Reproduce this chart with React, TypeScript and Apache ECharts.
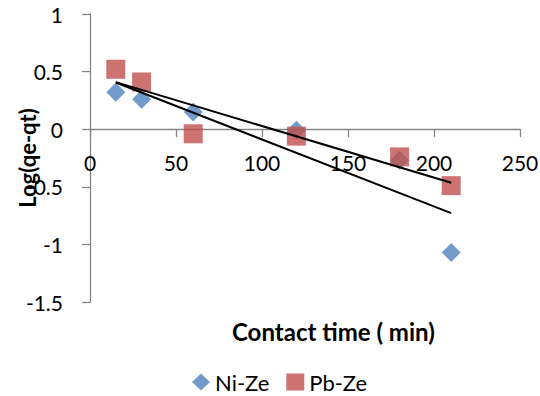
import React, { useEffect, useRef } from "react";
import * as echarts from "echarts";

const contactTime = [15, 30, 60, 120, 180, 210];
const niZe = [0.32, 0.26, 0.15, -0.01, -0.27, -1.07];
const pbZe = [0.52, 0.41, -0.04, -0.06, -0.24, -0.49];
const xTicks = { min: 0, max: 250, interval: 50 };
const yTicks = { min: -1.5, max: 1, interval: 0.5 };

function fit(xs: number[], ys: number[]) {
  const n = xs.length;
  const mx = xs.reduce((a, b) => a + b, 0) / n;
  const my = ys.reduce((a, b) => a + b, 0) / n;
  let sxy = 0;
  let sxx = 0;
  for (let i = 0; i < n; i++) {
    sxy += (xs[i] - mx) * (ys[i] - my);
    sxx += (xs[i] - mx) * (xs[i] - mx);
  }
  const slope = sxy / sxx;
  const icpt = my - slope * mx;
  const x0 = Math.min(...xs);
  const x1 = Math.max(...xs);
  return [
    [x0, icpt + slope * x0],
    [x1, icpt + slope * x1],
  ];
}

const FONT = "Lato";
const W = 540;
const H = 396;
const GRID = { left: 90, right: 20, top: 14, bottom: 94 };

export default function App() {
  const ref = useRef<HTMLDivElement>(null);
  useEffect(() => {
    if (!ref.current) return;
    const chart = echarts.init(ref.current, null, { renderer: "svg" });
    const lineStyle = { color: "#868686", width: 1.3 };
    // place the x axis where y = 0 (the axis crosses there in the reference)
    const plotH = H - GRID.top - GRID.bottom;
    const zeroY = GRID.top + (plotH * (yTicks.max - 0)) / (yTicks.max - yTicks.min);
    const xOffset = -(H - GRID.bottom - zeroY);
    chart.setOption({
      animation: false,
      backgroundColor: "#ffffff",
      textStyle: { fontFamily: FONT },
      grid: { ...GRID, containLabel: false, outerBoundsMode: "none" },
      xAxis: {
        type: "value",
        min: xTicks.min,
        max: xTicks.max,
        interval: xTicks.interval,
        offset: xOffset,
        axisLine: { show: true, onZero: false, lineStyle },
        axisTick: { show: true, inside: false, length: 8, lineStyle },
        axisLabel: { color: "#000", fontSize: 21, fontFamily: FONT, margin: 23 },
        splitLine: { show: false },
      },
      yAxis: {
        type: "value",
        min: yTicks.min,
        max: yTicks.max,
        interval: yTicks.interval,
        axisLine: { show: true, onZero: false, lineStyle },
        axisTick: { show: true, inside: false, length: 8, lineStyle },
        axisLabel: { color: "#000", fontSize: 21, fontFamily: FONT, margin: 27 },
        splitLine: { show: false },
        name: "Log(qe-qt)",
        nameLocation: "middle",
        nameGap: 52,
        nameMoveOverlap: false,
        nameTextStyle: { color: "#000", fontSize: 22, fontWeight: "bold", fontFamily: FONT },
      },
      legend: {
        show: true,
        top: 366,
        left: 187,
        itemGap: 17,
        itemWidth: 18,
        itemHeight: 17,
        textStyle: { color: "#000", fontSize: 22, fontFamily: FONT },
        data: [
          { name: "Ni-Ze", icon: "diamond" },
          { name: "Pb-Ze", icon: "rect" },
        ],
      },
      graphic: [
        {
          type: "text",
          left: 232,
          top: 319,
          style: {
            text: "Contact time ( min)",
            fill: "#000",
            font: `bold 24px ${FONT}`,
          },
        },
      ],
      series: [
        {
          name: "Ni-Ze",
          type: "scatter",
          symbol: "diamond",
          symbolSize: 19,
          itemStyle: { color: "#4F81BD" },
          data: contactTime.map((x, i) => [x, niZe[i]]),
          z: 2,
        },
        {
          name: "Pb-Ze",
          type: "scatter",
          symbol: "rect",
          symbolSize: 19,
          itemStyle: { color: "#C0504D" },
          data: contactTime.map((x, i) => [x, pbZe[i]]),
          z: 3,
        },
        {
          name: "Ni-Ze trend",
          type: "line",
          showSymbol: false,
          symbol: "none",
          lineStyle: { color: "#000", width: 2 },
          data: fit(contactTime, niZe),
          z: 4,
        },
        {
          name: "Pb-Ze trend",
          type: "line",
          showSymbol: false,
          symbol: "none",
          lineStyle: { color: "#000", width: 2 },
          data: fit(contactTime, pbZe),
          z: 4,
        },
      ],
    });
    return () => chart.dispose();
  }, []);
  return (
    <div
      ref={ref}
      style={{ position: "fixed", left: 0, top: 0, width: W, height: H, background: "#fff" }}
    />
  );
}
